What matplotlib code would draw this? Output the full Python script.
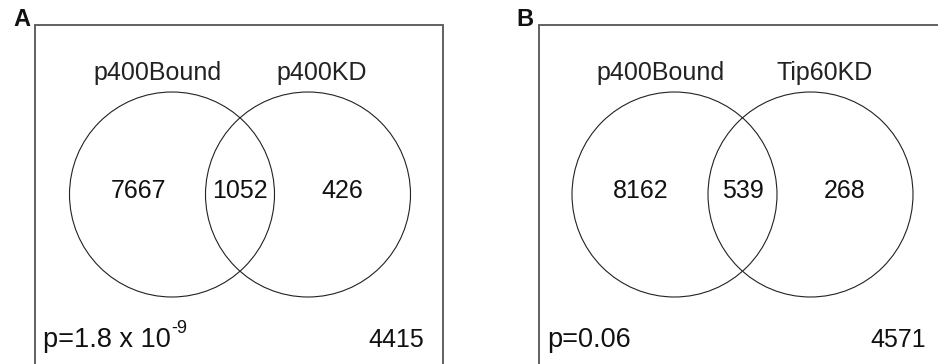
import matplotlib
matplotlib.use("Agg")
import matplotlib.pyplot as plt
from matplotlib.patches import Circle

plt.rcParams['font.family'] = ['Liberation Sans', 'DejaVu Sans']

panel_letters = ["A", "B"]
set_a_names = ["p400Bound", "p400Bound"]
set_b_names = ["p400KD", "Tip60KD"]
only_a = [7667, 8162]
both = [1052, 539]
only_b = [426, 268]
outside = [4415, 4571]
p_mantissa = ["1.8 x 10", "0.06"]
p_exponent = ["-9", ""]

W, H = 938, 364
fig = plt.figure(figsize=(W / 100, H / 100), dpi=100)
ax = fig.add_axes([0, 0, 1, 1])
ax.set_xlim(0, W)
ax.set_ylim(H, 0)
ax.axis("off")

# layout (pixel coordinates)
box_left = [35, 539]
box_right = [443, 960]
box_top = 25
circ_left_x = [172, 674.5]
circ_sep = 136
circ_y = 194.5
r = 102.5
fs = 18
edge = "#555555"

inv = ax.transData.inverted()
for i in range(2):
    L, R = box_left[i], box_right[i]
    ax.plot([L, L, R, R], [H + 10, box_top, box_top, H + 10], color=edge, lw=1.3,
            solid_joinstyle="miter", clip_on=False)
    ax.text(L - 5, box_top + 1, panel_letters[i], fontsize=17, fontweight="bold",
            ha="right", va="baseline", color="#111111")
    cx1 = circ_left_x[i]
    cx2 = cx1 + circ_sep
    for cx in (cx1, cx2):
        ax.add_patch(Circle((cx, circ_y), r, fill=False, ec="#222222", lw=0.8))
    ax.text(cx1 - 14, 80, set_a_names[i], fontsize=fs, ha="center", va="baseline", color="#222222")
    ax.text(cx2 + 14, 80, set_b_names[i], fontsize=fs, ha="center", va="baseline", color="#222222")
    ax.text(cx1 - 34, 198, str(only_a[i]), fontsize=fs, ha="center", va="baseline", color="#111111")
    ax.text((cx1 + cx2) / 2, 198, str(both[i]), fontsize=fs, ha="center", va="baseline", color="#111111")
    ax.text(cx2 + 34, 198, str(only_b[i]), fontsize=fs, ha="center", va="baseline", color="#111111")
    ax.text(R - 47 if i == 0 else 898, 347, str(outside[i]), fontsize=fs, ha="center",
            va="baseline", color="#111111")
    t = ax.text(L + 8, 347, "p=" + p_mantissa[i], fontsize=19.5, ha="left", va="baseline",
                color="#111111")
    if p_exponent[i]:
        fig.canvas.draw()
        bb = t.get_window_extent()
        x_end = inv.transform((bb.x1, bb.y0))[0]
        ax.text(x_end + 1, 333, p_exponent[i], fontsize=13, ha="left", va="baseline",
                color="#111111")

fig.savefig("out.png", dpi=100)
